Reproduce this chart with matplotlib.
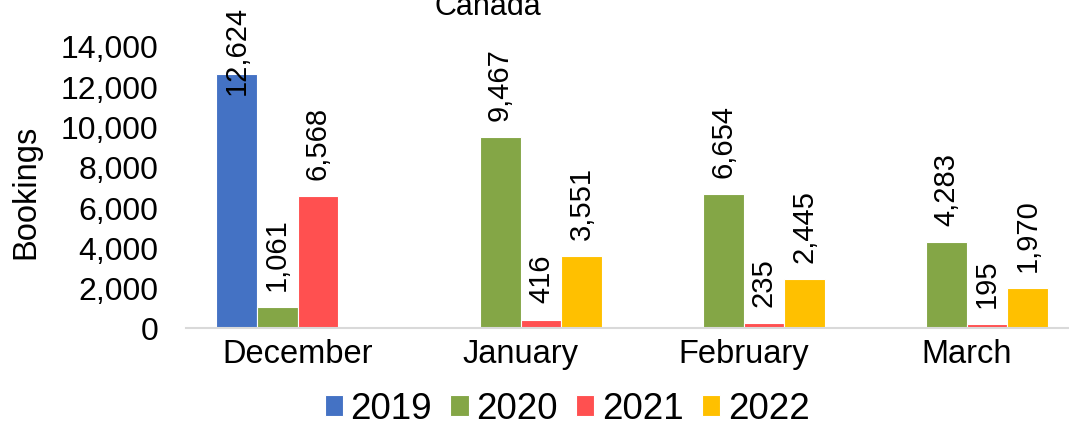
import numpy as np
import matplotlib.pyplot as plt

months = ["December", "January", "February", "March"]
years = ["2019", "2020", "2021", "2022"]
bookings_2019 = [12624, np.nan, np.nan, np.nan]
bookings_2020 = [1061, 9467, 6654, 4283]
bookings_2021 = [6568, 416, 235, 195]
bookings_2022 = [np.nan, 3551, 2445, 1970]
series = [bookings_2019, bookings_2020, bookings_2021, bookings_2022]
colors = ["#4472C4", "#84A646", "#FF5050", "#FFC000"]

plt.rcParams["font.family"] = ["Liberation Sans", "DejaVu Sans"]

fig = plt.figure(figsize=(10.69, 4.27), dpi=100)
ax = fig.add_axes([186 / 1069, 98 / 427, 892 / 1069, 282 / 427])

x = np.arange(len(months))
width = 0.183
# data label cap so the tallest label stays inside the figure (like Excel does)
label_cap = 11600

for i, (vals, col, yr) in enumerate(zip(series, colors, years)):
    pos = x + (i - 1.5) * width
    ax.bar(pos, vals, width=width, color=col, edgecolor="white",
           linewidth=0.8, label=yr)
    for p, v in zip(pos, vals):
        if np.isnan(v):
            continue
        y = min(v + 850, label_cap)
        ax.text(p, y, f"{int(v):,}", rotation=90, ha="center", va="bottom",
                fontsize=21, clip_on=False)

ax.set_xlim(-0.5, 3.5)
ax.set_ylim(0, 14000)
ax.set_xticks(x)
ax.set_xticklabels(months, fontsize=23.5)
ax.set_yticks(range(0, 14001, 2000))
ax.set_yticklabels([f"{t:,}" for t in range(0, 14001, 2000)], fontsize=23)
ax.tick_params(axis="both", length=0)
ax.tick_params(axis="y", pad=20)
ax.tick_params(axis="x", pad=7)

for s in ["top", "right", "left"]:
    ax.spines[s].set_visible(False)
ax.spines["bottom"].set_color("#D9D9D9")
ax.spines["bottom"].set_linewidth(1.5)

fig.text(26 / 1069, 1 - 192 / 427, "Bookings", rotation=90, ha="center",
         va="center", fontsize=23.5)
fig.text(488 / 1069, 1 - 15 / 427, "Canada", ha="center", va="baseline",
         fontsize=22)

fig.legend(loc="center", bbox_to_anchor=(567 / 1069, 1 - 410 / 427),
           ncol=4, frameon=False, fontsize=26.5, handlelength=0.5,
           handleheight=0.5, handletextpad=0.2, columnspacing=0.5)

fig.savefig("out.png", dpi=100)
